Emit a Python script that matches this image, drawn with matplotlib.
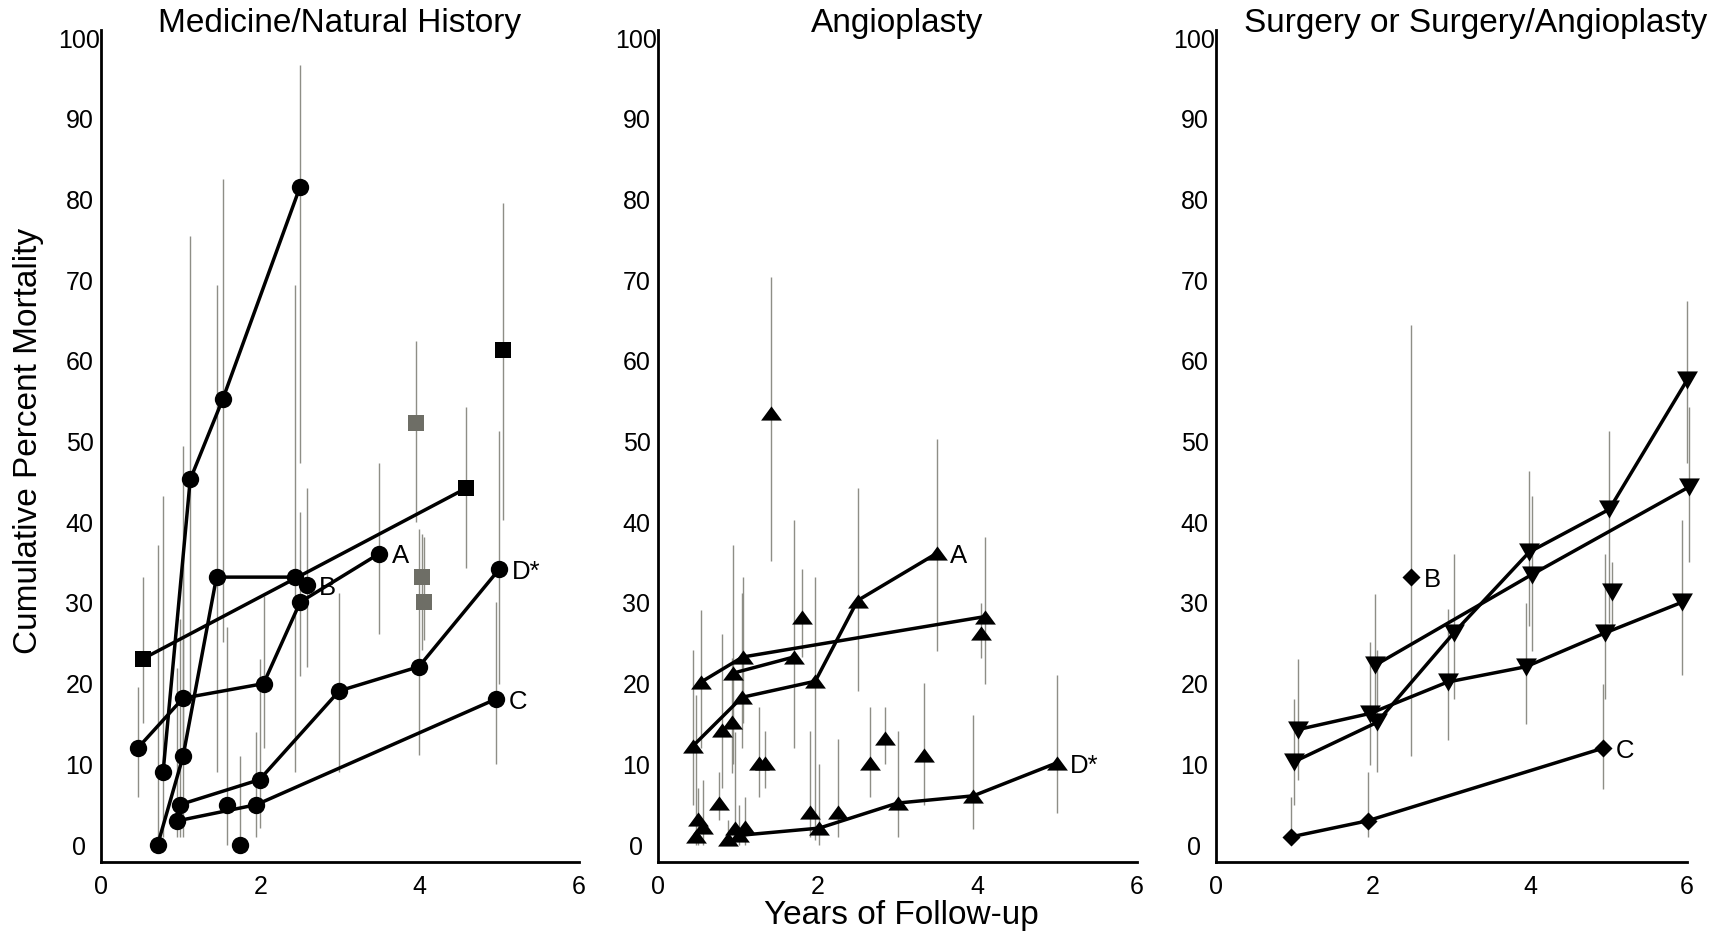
import numpy as np
import matplotlib
matplotlib.use("Agg")
import matplotlib.pyplot as plt

plt.rcParams['font.family'] = ['Liberation Sans', 'DejaVu Sans']

# ---- Medicine / Natural History (circles, squares) ----
med_steep_x = [0.78, 1.12, 1.53, 2.50]
med_steep_y = [9.1, 45.3, 55.3, 81.6]
med_steep_lo = [1.0, 18.0, 25.2, 47.3]
med_steep_hi = [43.3, 75.5, 82.5, 96.7]

med_flat_x = [0.71, 1.03, 1.45, 2.43]
med_flat_y = [0.0, 11.0, 33.2, 33.2]
med_flat_lo = [0.0, 1.0, 9.1, 9.1]
med_flat_hi = [37.2, 49.4, 69.4, 69.4]

med_a_x = [0.46, 1.03, 2.04, 2.50, 3.49]
med_a_y = [12.0, 18.2, 20.0, 30.1, 36.1]
med_a_lo = [6.0, 10.0, 12.0, 21.0, 26.2]
med_a_hi = [19.6, 36.0, 30.8, 41.3, 47.3]

med_d_x = [0.99, 1.99, 2.99, 3.99, 5.00]
med_d_y = [5.0, 8.1, 19.1, 22.1, 34.2]
med_d_lo = [1.0, 2.1, 9.1, 11.2, 20.0]
med_d_hi = [28.0, 23.1, 31.2, 39.2, 51.3]

med_c_x = [0.96, 1.95, 4.96]
med_c_y = [3.0, 5.0, 18.1]
med_c_lo = [1.0, 1.0, 10.1]
med_c_hi = [22.0, 14.0, 30.1]

med_pt_x = [1.58, 1.74, 2.58]
med_pt_y = [5.0, 0.0, 32.2]
med_pt_lo = [0.0, 0.0, 22.1]
med_pt_hi = [27.0, 11.0, 44.3]

med_sq_x = [0.53, 4.58]
med_sq_y = [23.1, 44.2]
med_sq_lo = [15.1, 34.3]
med_sq_hi = [33.2, 54.3]

med_sq1_x = [5.04]
med_sq1_y = [61.3]
med_sq1_lo = [40.3]
med_sq1_hi = [79.5]

med_gray_x = [3.96, 4.03, 4.06]
med_gray_y = [52.3, 33.2, 30.1]
med_gray_lo = [40.0, 24.2, 25.4]
med_gray_hi = [62.5, 38.6, 38.2]

# ---- Angioplasty (triangles) ----
ang_a_x = [0.44, 1.05, 1.97, 2.50, 3.50]
ang_a_y = [12.3, 18.3, 20.3, 30.3, 36.2]
ang_a_lo = [5.0, 12.0, 0.6, 19.1, 24.1]
ang_a_hi = [24.2, 31.2, 33.2, 44.2, 50.3]

ang_up_x = [0.54, 1.06, 4.09]
ang_up_y = [20.2, 23.3, 28.3]
ang_up_lo = [12.0, 15.1, 20.0]
ang_up_hi = [29.1, 33.2, 38.2]

ang_mid_x = [0.94, 1.70]
ang_mid_y = [21.3, 23.3]
ang_mid_lo = [10.1, 12.0]
ang_mid_hi = [37.2, 40.3]

ang_d_x = [1.02, 2.02, 3.00, 3.95, 5.00]
ang_d_y = [1.2, 2.1, 5.2, 6.1, 10.2]
ang_d_lo = [0.0, 0.0, 1.0, 2.0, 4.0]
ang_d_hi = [5.0, 10.0, 14.1, 16.1, 21.1]

ang_pt_x = [4.04, 1.80, 1.42, 0.93, 0.80, 1.26, 1.34, 2.66, 2.84, 3.33,
            0.76, 0.50, 0.56, 0.48, 0.88, 0.96, 1.09, 1.91, 2.25]
ang_pt_y = [26.3, 28.3, 53.5, 15.3, 14.3, 10.2, 10.2, 10.2, 13.3, 11.2,
            5.2, 3.2, 2.2, 1.1, 0.7, 2.1, 2.2, 4.1, 4.1]
ang_pt_lo = [23.2, 23.3, 35.2, 8.9, 7.1, 6.0, 7.1, 6.0, 10.0, 5.0,
             3.1, 0.0, 0.0, 0.0, 0.0, 0.0, 0.0, 1.0, 1.0]
ang_pt_hi = [30.0, 34.2, 70.4, 23.2, 26.1, 17.1, 14.1, 17.1, 17.1, 20.1,
             9.1, 7.1, 8.1, 18.6, 3.1, 14.0, 6.0, 14.1, 13.1]

# ---- Surgery or Surgery/Angioplasty (down triangles, diamonds) ----
srg_low_x = [1.04, 1.96, 2.95, 3.95, 4.96, 5.94]
srg_low_y = [14.3, 16.3, 20.2, 22.1, 26.3, 30.1]
srg_low_lo = [8.1, 9.9, 13.0, 15.0, 18.1, 21.1]
srg_low_hi = [23.1, 25.2, 29.2, 30.0, 36.1, 40.3]

srg_steep_x = [0.99, 2.05, 3.03, 3.99, 5.01, 6.00]
srg_steep_y = [10.3, 15.2, 26.3, 36.3, 41.6, 57.6]
srg_steep_lo = [5.0, 9.0, 18.1, 27.1, 27.5, 47.3]
srg_steep_hi = [18.1, 24.2, 36.1, 46.3, 51.3, 67.4]

srg_mid_x = [2.03, 4.02, 6.03]
srg_mid_y = [22.3, 33.5, 44.4]
srg_mid_lo = [15.0, 24.1, 35.1]
srg_mid_hi = [31.1, 43.2, 54.3]

srg_pt_x = [5.05]
srg_pt_y = [31.4]
srg_pt_lo = [27.1]
srg_pt_hi = [35.1]

srg_c_x = [0.95, 1.93, 4.93]
srg_c_y = [1.0, 3.0, 12.0]
srg_c_lo = [0.0, 1.0, 7.0]
srg_c_hi = [6.0, 9.1, 20.0]

srg_b_x = [2.49]
srg_b_y = [33.2]
srg_b_lo = [11.0]
srg_b_hi = [64.4]

titles = ["Medicine/Natural History", "Angioplasty", "Surgery or Surgery/Angioplasty"]
y_ticks = list(range(0, 101, 10))
x_ticks = [0, 2, 4, 6]

BAR_COLOR = '#8e8e86'
GRAY_MARK = '#6e6e66'
UP_TRI = [(0, 0.68), (-1, -0.68), (1, -0.68)]
DOWN_TRI = [(0, -0.87), (-1, 0.87), (1, 0.87)]
DIAMOND = [(0, 1), (1, 0), (0, -1), (-1, 0)]


def draw(ax, x, y, lo, hi, marker, ms, color='black', connect=True):
    ax.vlines(x, lo, hi, color=BAR_COLOR, lw=1.0, zorder=1, clip_on=False)
    if connect:
        ax.plot(x, y, color='black', lw=2.5, zorder=2, clip_on=False)
    ax.plot(x, y, ls='none', marker=marker, ms=ms, mfc=color, mec=color,
            mew=0, zorder=3, clip_on=False)


def tag(ax, x, y, text):
    ax.annotate(text, (x, y), xytext=(9, -2), textcoords='offset points',
                ha='left', va='center', fontsize=18.5)


fig = plt.figure(figsize=(17.21, 9.34), dpi=100)
bottom, height = 0.0771, 0.8908
ax1 = fig.add_axes([0.05869, bottom, 0.27774, height])
ax2 = fig.add_axes([0.38234, bottom, 0.27833, height])
ax3 = fig.add_axes([0.70657, bottom, 0.27368, height])

# Medicine
CIRC_MS = 12.5
SQ_MS = 12
draw(ax1, med_steep_x, med_steep_y, med_steep_lo, med_steep_hi, 'o', CIRC_MS)
draw(ax1, med_flat_x, med_flat_y, med_flat_lo, med_flat_hi, 'o', CIRC_MS)
draw(ax1, med_a_x, med_a_y, med_a_lo, med_a_hi, 'o', CIRC_MS)
draw(ax1, med_d_x, med_d_y, med_d_lo, med_d_hi, 'o', CIRC_MS)
draw(ax1, med_c_x, med_c_y, med_c_lo, med_c_hi, 'o', CIRC_MS)
draw(ax1, med_pt_x, med_pt_y, med_pt_lo, med_pt_hi, 'o', CIRC_MS, connect=False)
draw(ax1, med_sq_x, med_sq_y, med_sq_lo, med_sq_hi, 's', SQ_MS)
draw(ax1, med_sq1_x, med_sq1_y, med_sq1_lo, med_sq1_hi, 's', SQ_MS, connect=False)
draw(ax1, med_gray_x, med_gray_y, med_gray_lo, med_gray_hi, 's', SQ_MS,
     color=GRAY_MARK, connect=False)
tag(ax1, med_a_x[-1], med_a_y[-1], "A")
tag(ax1, med_pt_x[-1], med_pt_y[-1], "B")
tag(ax1, med_d_x[-1], med_d_y[-1], "D*")
tag(ax1, med_c_x[-1], med_c_y[-1], "C")

# Angioplasty
TRI_MS = 15
draw(ax2, ang_a_x, ang_a_y, ang_a_lo, ang_a_hi, UP_TRI, TRI_MS)
draw(ax2, ang_up_x, ang_up_y, ang_up_lo, ang_up_hi, UP_TRI, TRI_MS)
draw(ax2, ang_mid_x, ang_mid_y, ang_mid_lo, ang_mid_hi, UP_TRI, TRI_MS)
draw(ax2, ang_d_x, ang_d_y, ang_d_lo, ang_d_hi, UP_TRI, TRI_MS)
draw(ax2, ang_pt_x, ang_pt_y, ang_pt_lo, ang_pt_hi, UP_TRI, TRI_MS, connect=False)
tag(ax2, ang_a_x[-1], ang_a_y[-1], "A")
tag(ax2, ang_d_x[-1], ang_d_y[-1], "D*")

# Surgery
VT_MS = 15
DM_MS = 13
draw(ax3, srg_low_x, srg_low_y, srg_low_lo, srg_low_hi, DOWN_TRI, VT_MS)
draw(ax3, srg_steep_x, srg_steep_y, srg_steep_lo, srg_steep_hi, DOWN_TRI, VT_MS)
draw(ax3, srg_mid_x, srg_mid_y, srg_mid_lo, srg_mid_hi, DOWN_TRI, VT_MS)
draw(ax3, srg_pt_x, srg_pt_y, srg_pt_lo, srg_pt_hi, DOWN_TRI, VT_MS, connect=False)
draw(ax3, srg_c_x, srg_c_y, srg_c_lo, srg_c_hi, DIAMOND, DM_MS)
draw(ax3, srg_b_x, srg_b_y, srg_b_lo, srg_b_hi, DIAMOND, DM_MS, connect=False)
tag(ax3, srg_b_x[-1], srg_b_y[-1], "B")
tag(ax3, srg_c_x[-1], srg_c_y[-1], "C")

title_x = [0.5, 0.5, 0.552]
for ax, title, tx in zip([ax1, ax2, ax3], titles, title_x):
    ax.set_xlim(0, 6)
    ax.set_ylim(-2.1, 101)
    ax.set_xticks(x_ticks)
    ax.set_yticks(y_ticks)
    ax.tick_params(axis='both', length=0, labelsize=18)
    ax.tick_params(axis='x', pad=9.5)
    ax.tick_params(axis='y', pad=15.5)
    for lab in ax.get_yticklabels():
        lab.set_horizontalalignment('center')
    for side in ['top', 'right']:
        ax.spines[side].set_visible(False)
    for side in ['left', 'bottom']:
        ax.spines[side].set_linewidth(2.0)
        ax.spines[side].set_color('black')
    ax.text(tx, 1.0075, title, transform=ax.transAxes, ha='center',
            va='center', fontsize=24)

fig.text(0.0165, 0.528, "Cumulative Percent Mortality", rotation=90,
         ha='center', va='center', fontsize=24)
fig.text(0.5235, 0.0105, "Years of Follow-up", ha='center', va='baseline',
         fontsize=24)

fig.savefig("out.png", dpi=100)
